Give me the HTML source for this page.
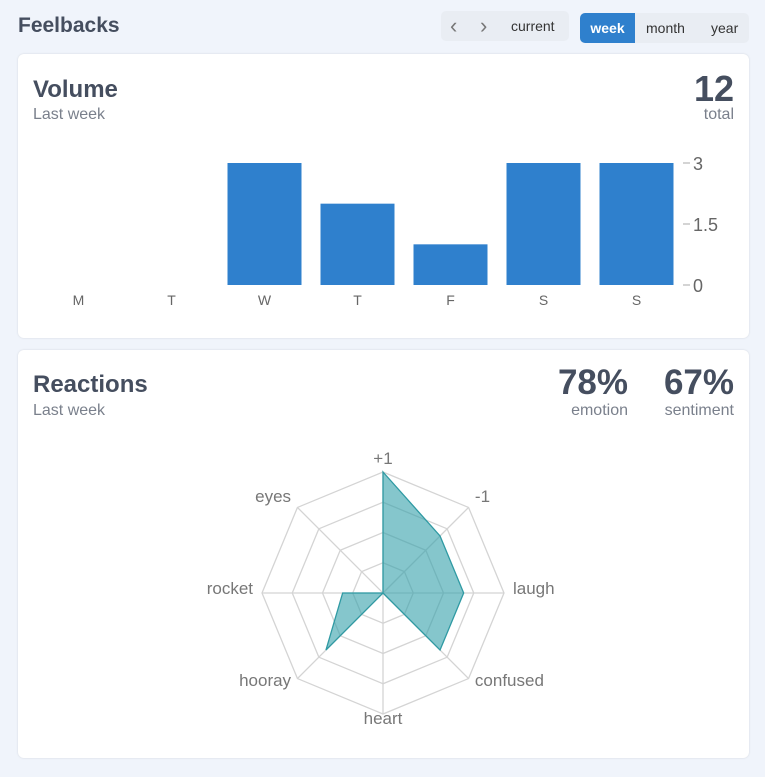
<!DOCTYPE html>
<html><head><meta charset="utf-8"><style>
body{margin:0;width:765px;height:777px;background:#f0f4fb;font-family:"Liberation Sans",sans-serif;position:relative;overflow:hidden;color:#4a5263}
.abs{position:absolute}
.card{position:absolute;left:18px;width:731px;background:#fff;border-radius:6px;box-shadow:0 0 2px rgba(0,0,0,.12)}
.h{font-weight:bold;font-size:24px;color:#454e5f}
.sub{font-size:16px;color:#7a808c}
.btn{position:absolute;font-size:14px;color:#333;}
</style></head><body>
<div class="abs h" style="left:18px;top:14px;font-size:21px">Feelbacks</div>
<div class="abs" style="left:441px;top:11px;width:128px;height:30px;background:#e9edf3;border-radius:5px">
 <div class="btn" style="left:9px;top:2px;font-size:22px;color:#777">&#8249;</div>
 <div class="btn" style="left:39px;top:2px;font-size:22px;color:#777">&#8250;</div>
 <div class="btn" style="left:70px;top:7px">current</div>
</div>
<div class="abs" style="left:580px;top:13px;width:169px;height:30px;background:#e9edf3;border-radius:5px;overflow:hidden">
 <div class="btn" style="left:0;top:0;width:55px;height:30px;background:#2f80cd;color:#fff;font-weight:bold;text-align:center;line-height:30px">week</div>
 <div class="btn" style="left:66px;top:0;line-height:30px">month</div>
 <div class="btn" style="left:131px;top:0;line-height:30px">year</div>
</div>

<div class="card" style="top:54px;height:284px">
 <div class="abs h" style="left:15px;top:22px">Volume</div>
 <div class="abs sub" style="left:15px;top:52px">Last week</div>
 <div class="abs h" style="right:15px;top:14px;font-size:36px">12</div>
 <div class="abs sub" style="right:15px;top:52px">total</div>
</div>
<svg class="abs" style="left:0;top:0" width="765" height="777" id="bar"></svg>

<div class="card" style="top:350px;height:408px">
 <div class="abs h" style="left:15px;top:21px">Reactions</div>
 <div class="abs sub" style="left:15px;top:52px">Last week</div>
 <div class="abs h" style="right:121px;top:13px;font-size:35px">78%</div>
 <div class="abs sub" style="right:121px;top:52px">emotion</div>
 <div class="abs h" style="right:15px;top:13px;font-size:35px">67%</div>
 <div class="abs sub" style="right:15px;top:52px">sentiment</div>
</div>
<svg class="abs" style="left:0;top:0" width="765" height="777" id="radar"></svg>
<script>
const days=["M","T","W","T","F","S","S"];
const volumes=[0,0,3,2,1,3,3];
const yTicks=[0,1.5,3];
const radarLabels=["+1","-1","laugh","confused","heart","hooray","rocket","eyes"];
const radarValues=[3,2,2,2,0,2,1,0];
const radarMax=3;
const NS="http://www.w3.org/2000/svg";
function mk(p,t,a){const e=document.createElementNS(NS,t);for(const k in a)e.setAttribute(k,a[k]);p.appendChild(e);return e;}
const bar=document.getElementById('bar');
const x0=32,step=93,bw=74,yb=285,yt=163,ymax=3;
const y=v=>yb-(v/ymax)*(yb-yt);
days.forEach((d,i)=>{
 const cx=x0+step*i+step/2;
 const r=mk(bar,'rect',{x:cx-bw/2,y:y(volumes[i]),width:bw,height:yb-y(volumes[i]),fill:'#2f80cd'});
 
 
 const t=mk(bar,'text',{x:cx,y:305,'text-anchor':'middle','font-size':14,fill:'#666'});t.textContent=d;
 
 
});
yTicks.forEach(v=>{
 mk(bar,'line',{x1:683,x2:690,y1:y(v),y2:y(v),stroke:'#aaa'});
 const t=mk(bar,'text',{x:693,y:y(v)+7,'font-size':18,fill:'#666'});t.textContent=v;
 
 
});
const rd=document.getElementById('radar');
const cx=383,cy=593,R=121,n=radarLabels.length;
const pt=(i,r)=>[cx+r*Math.sin(2*Math.PI*i/n),cy-r*Math.cos(2*Math.PI*i/n)];
for(let k=1;k<=4;k++){const rr=R*k/4;mk(rd,'polygon',{points:radarLabels.map((_,i)=>pt(i,rr).join(',')).join(' '),fill:'none',stroke:'#d4d4d4','stroke-width':1.3});}
radarLabels.forEach((l,i)=>{const p=pt(i,R);mk(rd,'line',{x1:cx,y1:cy,x2:p[0],y2:p[1],stroke:'#d4d4d4','stroke-width':1.3});
 const q=pt(i,R+9);const s=Math.sin(2*Math.PI*i/n);
 const t=mk(rd,'text',{x:q[0],y:q[1]+1,'font-size':17,fill:'#777','text-anchor':Math.abs(s)<0.1?'middle':(s>0?'start':'end')});
 t.textContent=l;
 
 
});
const poly=mk(rd,'polygon',{points:radarValues.map((v,i)=>pt(i,R*v/radarMax).join(',')).join(' '),fill:'rgba(52,160,170,0.6)',stroke:'#2f9aa3','stroke-width':1.3});


</script>
</body></html>
